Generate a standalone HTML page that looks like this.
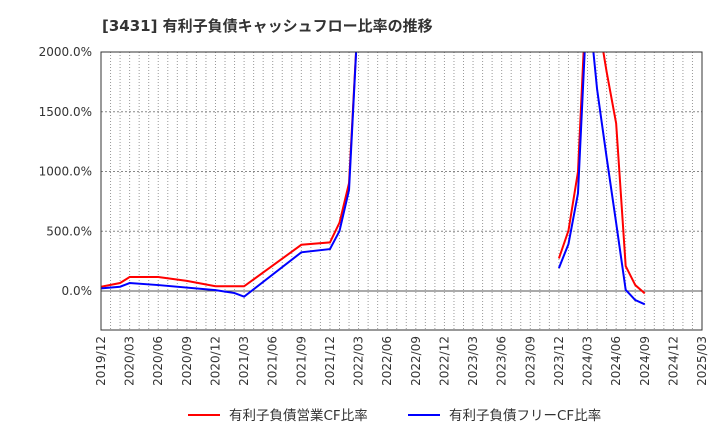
<!DOCTYPE html>
<html><head><meta charset="utf-8"><style>
body{margin:0;background:#fff;}
svg text{font-family:"DejaVu Sans","Noto Sans CJK JP",sans-serif;}
</style></head><body>
<svg width="720" height="440" viewBox="0 0 720 440">
<text x="102" y="31" font-size="15" font-weight="bold" fill="#333">[3431]  有利子負債キャッシュフロー比率の推移</text>
<defs><clipPath id="pc"><rect x="101" y="52" width="601" height="278"/></clipPath></defs>
<g id="grid"></g>
<g id="series" clip-path="url(#pc)"></g>
<rect x="101" y="52" width="601" height="278" fill="none" stroke="#333" stroke-width="1"/>
<g id="labels"></g>
<g>
<line x1="188" y1="415" x2="220" y2="415" stroke="#f00" stroke-width="2"/>
<text x="229" y="420" font-size="13.5" fill="#333">有利子負債営業CF比率</text>
<line x1="408" y1="415" x2="440" y2="415" stroke="#00f" stroke-width="2"/>
<text x="449" y="420" font-size="13.5" fill="#333">有利子負債フリーCF比率</text>
</g>
</svg>
<script>
const xTicks=["2019/12","2020/03","2020/06","2020/09","2020/12","2021/03","2021/06","2021/09","2021/12","2022/03","2022/06","2022/09","2022/12","2023/03","2023/06","2023/09","2023/12","2024/03","2024/06","2024/09","2024/12","2025/03"];
const yTicks=[0,500,1000,1500,2000];
const redMonths=[0,2,3,6,9,12,15,21,24,25,26,27];
const redValues=[36,67,117,117,85,40,40,387,407,572,903,2400];
const redMonths2=[48,49,50,51,52,53,54,55,56,57];
const redValues2=[273,505,998,2700,2320,1835,1403,209,50,-20];
const blueMonths=[0,2,3,6,12,14,15,21,24,25,26,27];
const blueValues=[22,36,67,50,8,-17,-47,324,351,502,845,2400];
const blueMonths2=[48,49,50,51,52,53,54,55,56,57];
const blueValues2=[192,393,817,2500,1690,1120,570,10,-75,-111];
const NS="http://www.w3.org/2000/svg";
const X0=101,X1=702,Y0=52,Y1=330,nM=63;
const yMin=-326,yMax=2000;
const xs=m=>X0+m*(X1-X0)/nM;
const ys=v=>Y1-(v-yMin)/(yMax-yMin)*(Y1-Y0);
const grid=document.getElementById('grid'),lab=document.getElementById('labels'),ser=document.getElementById('series');
for(let m=1;m<nM;m++){const l=document.createElementNS(NS,'line');
l.setAttribute('x1',xs(m));l.setAttribute('x2',xs(m));l.setAttribute('y1',Y0);l.setAttribute('y2',Y1);
l.setAttribute('stroke','#999');l.setAttribute('stroke-width','1');l.setAttribute('stroke-dasharray','1,2');


grid.appendChild(l);}
yTicks.forEach(v=>{const y=ys(v);const l=document.createElementNS(NS,'line');
l.setAttribute('x1',X0);l.setAttribute('x2',X1);l.setAttribute('y1',y);l.setAttribute('y2',y);
l.setAttribute('stroke',v===0?'#555':'#888');l.setAttribute('stroke-width','1');if(v!==0)l.setAttribute('stroke-dasharray','2,2');


grid.appendChild(l);
const t=document.createElementNS(NS,'text');t.setAttribute('x',92);t.setAttribute('y',y+4);t.setAttribute('text-anchor','end');t.setAttribute('font-size','12');t.setAttribute('fill','#333');
t.textContent=v.toFixed(1)+'%';


lab.appendChild(t);});
xTicks.forEach((s,i)=>{const x=xs(i*3);const t=document.createElementNS(NS,'text');
t.setAttribute('transform',`translate(${x+4},${Y1+6}) rotate(-90)`);t.setAttribute('text-anchor','end');t.setAttribute('font-size','12');t.setAttribute('fill','#333');
t.textContent=s;


lab.appendChild(t);});
function line(ms,vs,c,name){const p=document.createElementNS(NS,'polyline');
p.setAttribute('points',ms.map((m,i)=>xs(m)+','+ys(vs[i])).join(' '));
p.setAttribute('fill','none');p.setAttribute('stroke',c);p.setAttribute('stroke-width','2');


ser.appendChild(p);}
line(redMonths,redValues,'#f00','operating-cf-line-1');
line(redMonths2,redValues2,'#f00','operating-cf-line-2');
line(blueMonths,blueValues,'#00f','free-cf-line-1');
line(blueMonths2,blueValues2,'#00f','free-cf-line-2');
</script>
</body></html>
